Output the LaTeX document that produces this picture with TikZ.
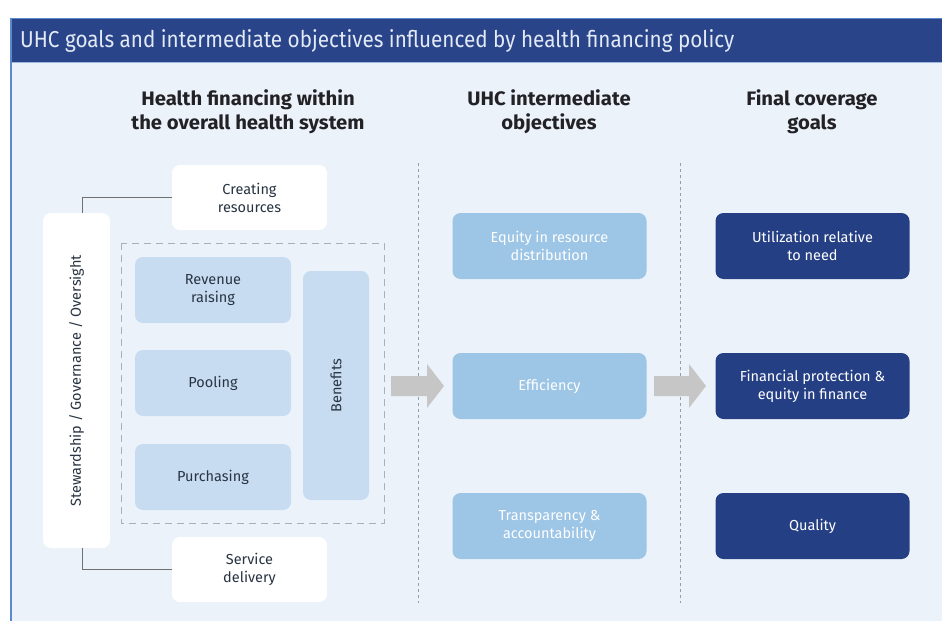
\documentclass[tikz,border=0pt]{standalone}
\usepackage{fontspec}
\setmainfont{Fira Sans}
\newfontfamily\titlefont[FakeStretch=0.9]{Fira Sans}
\newfontfamily\headfont[FakeStretch=1.04]{Fira Sans Bold}
\definecolor{titlebar}{RGB}{42,68,138}
\definecolor{titletext}{RGB}{226,234,246}
\definecolor{bgc}{RGB}{236,242,250}
\definecolor{framec}{RGB}{92,136,204}
\definecolor{lightbox}{RGB}{199,220,241}
\definecolor{midbox}{RGB}{156,197,230}
\definecolor{darkbox}{RGB}{37,63,133}
\definecolor{dashc}{RGB}{150,156,166}
\definecolor{arrowc}{RGB}{198,198,198}
\definecolor{connc}{RGB}{112,112,112}
\definecolor{boxtext}{RGB}{40,52,66}
\definecolor{headtext}{RGB}{34,34,38}
\tikzset{
  basebox/.style={rounded corners=8pt, inner sep=0pt, align=center,
    font=\fontsize{14.5}{18}\selectfont},
  whitebox/.style={basebox, fill=white, text=boxtext},
  lbox/.style={basebox, fill=lightbox, text=boxtext},
  mbox/.style={basebox, fill=midbox, text=white},
  dbox/.style={basebox, fill=darkbox, text=white},
  heading/.style={align=center, text=headtext, font=\headfont\fontsize{19.5}{24}\selectfont},
  divider/.style={draw=dashc, dash pattern=on 3pt off 3pt, line width=1pt},
  conn/.style={draw=connc, line width=1.4pt},
  bigarrow/.style={fill=arrowc, draw=none}
}
\begin{document}
\begin{tikzpicture}[x=1pt,y=-1pt]
\useasboundingbox (0,0) rectangle (942,621);
\fill[white] (0,0) rectangle (942,621);
% frame
\fill[bgc] (10,18) rectangle (942,621);
\fill[titlebar] (10,18) rectangle (942,62);
\draw[framec!60, line width=1pt] (10,62.5) -- (942,62.5);
\draw[framec, line width=2pt] (11,18) -- (11,621);
\draw[framec, line width=1pt] (10,18.5) -- (942,18.5);
\node[anchor=west, text=titletext, font=\titlefont\fontsize{23}{26}\selectfont, inner sep=0pt] (title) at (20,41) {UHC goals and intermediate objectives influenced by health financing policy};

% headings
\node[heading] (h1) at (248,112) {Health financing within\\the overall health system};
\node[heading] (h2) at (549,112) {UHC intermediate\\objectives};
\node[heading] (h3) at (812,112) {Final coverage\\goals};

% dividers
\coordinate (d1t) at (418.5,163);
\coordinate (d1b) at (418.5,603);
\coordinate (d2t) at (680.5,163);
\coordinate (d2b) at (680.5,603);
\draw[divider] (d1t) -- (d1b);
\draw[divider] (d2t) -- (d2b);

% dashed container
\draw[draw=dashc!80, dash pattern=on 7pt off 5pt, line width=1pt] (121,243) rectangle (384,523);

% left column
\node[whitebox, minimum width=155pt, minimum height=65pt] (create) at (249.5,197.5) {Creating\\resources};
\node[whitebox, minimum width=155pt, minimum height=65pt] (serv) at (249.5,569.5) {Service\\delivery};
\node[whitebox, minimum width=67pt, minimum height=335pt] (stew) at (76.5,380.5) {};
\node[rotate=90, text=boxtext, font=\fontsize{14.5}{18}\selectfont] (stewt) at (stew.center) {Stewardship / Governance / Oversight};
\node[lbox, minimum width=156pt, minimum height=66pt] (rev) at (213,290) {Revenue\\raising};
\node[lbox, minimum width=156pt, minimum height=66pt] (pool) at (213,383) {Pooling};
\node[lbox, minimum width=156pt, minimum height=66pt] (purch) at (213,477) {Purchasing};
\node[lbox, minimum width=66pt, minimum height=229pt] (ben) at (336,385.5) {};
\node[rotate=90, text=boxtext, font=\fontsize{14.5}{18}\selectfont] (bent) at (ben.center) {Benefits};

\draw[conn] ([xshift=6pt]stew.north) |- (create.west);
\draw[conn] ([xshift=6pt]stew.south) |- (serv.west);

% middle column
\node[mbox, minimum width=194pt, minimum height=66pt] (eq) at (549.5,246) {Equity in resource\\distribution};
\node[mbox, minimum width=194pt, minimum height=66pt] (eff) at (549.5,386) {Efficiency};
\node[mbox, minimum width=194pt, minimum height=66pt] (trans) at (549.5,526) {Transparency \&\\accountability};

% right column
\node[dbox, minimum width=194pt, minimum height=66pt] (util) at (812.5,246) {Utilization relative\\to need};
\node[dbox, minimum width=194pt, minimum height=66pt] (fin) at (812.5,386) {Financial protection \&\\equity in finance};
\node[dbox, minimum width=194pt, minimum height=66pt] (qual) at (812.5,526) {Quality};

% big arrows
\fill[bigarrow] (391,376) -- (427,376) -- (427,364) -- (444,386) -- (427,408) -- (427,396) -- (391,396) -- cycle;
\fill[bigarrow] (654,376) -- (689,376) -- (689,364) -- (706,386) -- (689,408) -- (689,396) -- (654,396) -- cycle;
\end{tikzpicture}
\end{document}
